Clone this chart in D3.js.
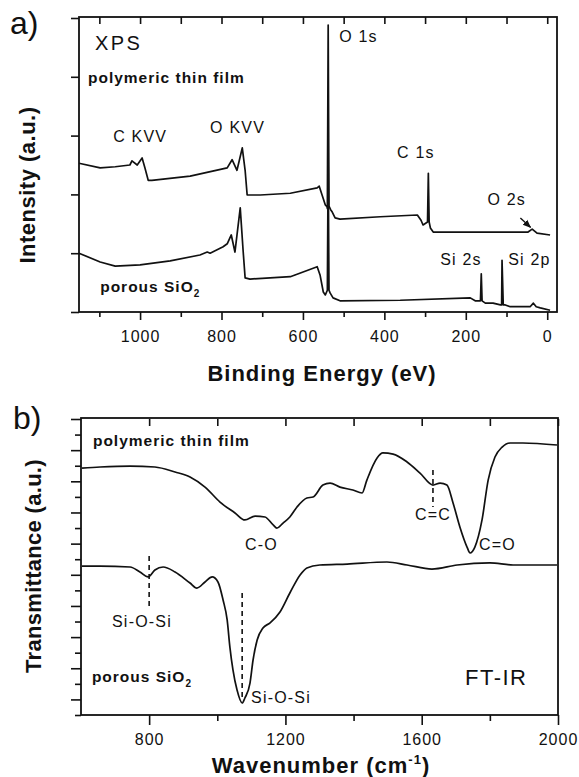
<!DOCTYPE html>
<html>
<head>
<meta charset="utf-8">
<script src="https://cdn.jsdelivr.net/npm/d3@7"></script>
<style>
body { margin: 0; background: #fff; }
text { font-family: "Liberation Sans", Arial, sans-serif; fill: #111; }
</style>
</head>
<body>
<script>
var w = 579, h = 777;

// a) XPS survey: [binding energy (eV), intensity (a.u.)]
var xpsFilm = [[1150,2.53],[1098,2.45],[1061,2.47],[1025,2.50],[1020,2.57],[1007,2.50],[995,2.62],[988,2.45],[980,2.24],[971,2.24],[877,2.31],[786,2.45],[774,2.59],[762,2.41],[749,2.79],[742,2.41],[737,1.99],[705,1.99],[631,2.02],[565,2.11],[560,2.14],[553,1.99],[545,1.82],[541,1.79],[540,1.76],[538,4.88],[536,1.80],[532,1.74],[528,1.70],[521,1.60],[509,1.58],[410,1.62],[319,1.65],[310,1.56],[305,1.48],[294,1.53],[292,2.36],[290,1.53],[287,1.43],[280,1.36],[165,1.36],[47,1.36],[37,1.41],[25,1.34],[-7,1.31]];
var xpsSilica = [[1150,1.00],[1098,0.85],[1061,0.78],[1000,0.80],[926,0.87],[853,0.97],[835,1.02],[828,1.00],[796,1.11],[786,1.16],[776,1.31],[767,1.02],[754,1.77],[747,1.05],[742,0.58],[730,0.56],[631,0.60],[565,0.77],[558,0.63],[550,0.34],[545,0.29],[540,0.37],[538,2.60],[536,0.37],[533,0.32],[526,0.24],[509,0.19],[361,0.20],[189,0.24],[177,0.19],[164,0.19],[162,0.65],[160,0.19],[152,0.15],[133,0.15],[115,0.12],[112,0.12],[111,0.88],[108,0.12],[103,0.12],[91,0.09],[42,0.09],[34,0.15],[27,0.09],[17,0.07],[-7,0.03]];
var xpsTicks = [1000, 800, 600, 400, 200, 0];
var xpsMinor = [1100, 900, 700, 500, 300, 100];
var xpsLabels = [
  {t: 'C KVV', x: 1066, y: 2.89},
  {t: 'O KVV', x: 828, y: 3.04},
  {t: 'O 1s', x: 511, y: 4.59},
  {t: 'C 1s', x: 369, y: 2.62},
  {t: 'O 2s', x: 147, y: 1.82},
  {t: 'Si 2s', x: 263, y: 0.80},
  {t: 'Si 2p', x: 96, y: 0.80}
];
var o2sArrow = [[66, 1.60], [41, 1.44]];

// b) FT-IR: [wavenumber (cm-1), transmittance (a.u.)]
var irFilm = [[603,15.85],[656,15.92],[744,15.98],[817,15.92],[876,15.60],[920,15.28],[964,14.63],[1008,13.67],[1052,12.97],[1081,12.52],[1111,12.77],[1140,12.71],[1164,12.20],[1175,12.00],[1193,12.32],[1213,12.71],[1234,13.35],[1263,13.93],[1281,13.99],[1310,14.76],[1331,14.89],[1360,14.63],[1398,14.44],[1425,14.25],[1439,15.08],[1469,16.50],[1486,16.82],[1516,16.75],[1557,16.24],[1595,15.53],[1633,14.76],[1654,14.89],[1674,14.76],[1692,13.61],[1712,12.07],[1733,10.78],[1742,10.40],[1756,10.78],[1777,12.52],[1795,15.08],[1815,16.56],[1836,17.20],[1859,17.46],[1897,17.46],[1997,17.33]];
var irSilica = [[603,9.56],[656,9.56],[744,9.50],[773,9.18],[797,8.86],[817,9.31],[841,9.50],[876,9.18],[920,8.47],[940,8.15],[964,8.54],[985,8.86],[1002,8.54],[1017,7.38],[1029,6.10],[1037,4.36],[1046,2.89],[1058,1.60],[1073,0.77],[1081,1.09],[1096,2.05],[1105,3.53],[1117,4.81],[1134,5.58],[1155,5.91],[1184,6.61],[1213,7.83],[1243,8.99],[1263,9.44],[1301,9.63],[1381,9.69],[1498,9.82],[1557,9.63],[1630,9.37],[1704,9.63],[1800,9.76],[1868,9.63],[1997,9.63]];
var irTicks = [800, 1200, 1600, 2000];
var irMinor = [1000, 1400, 1800];
var irBands = [
  {t: 'Si-O-Si', x: 691, y: 5.65, x0: 800, y0: 10.2, y1: 6.74},
  {t: 'Si-O-Si', x: 1099, y: 0.77, x0: 1073, y0: 7.83, y1: 0.96},
  {t: 'C-O', x: 1081, y: 10.59},
  {t: 'C=C', x: 1580, y: 12.52, x0: 1633, y0: 15.73, y1: 13.35},
  {t: 'C=O', x: 1768, y: 10.59}
];

var svg = d3.select('body').append('svg')
    .attr('width', w)
    .attr('height', h);

svg.append('defs').append('marker')
    .attr('id', 'head')
    .attr('viewBox', '0 0 10 10')
    .attr('refX', 9).attr('refY', 5)
    .attr('markerWidth', 6).attr('markerHeight', 6)
    .attr('orient', 'auto')
    .append('path')
    .attr('d', 'M0,1L10,5L0,9Z')
    .attr('fill', '#111');

function clean(g) {
    g.select('.domain').remove();
    g.selectAll('line').attr('stroke', '#111').attr('stroke-width', 1.6);
    g.attr('font-family', null).attr('font-size', 16).style('letter-spacing', '1px');
}

function frame(x, y) {
    var x0 = x.range()[0], x1 = x.range()[1];
    var y0 = y.range()[0], y1 = y.range()[1] - 1;
    svg.append('rect')
        .attr('x', x0).attr('y', y1)
        .attr('width', x1 - x0).attr('height', y0 - y1)
        .attr('fill', 'none')
        .attr('stroke', '#111')
        .attr('stroke-width', 1.8);
}

function curve(x, y, data, smooth) {
    var line = d3.line()
        .x(d => x(d[0]))
        .y(d => y(d[1]))
        .curve(smooth ? d3.curveMonotoneX : d3.curveLinear);
    svg.append('path')
        .datum(data)
        .attr('d', line)
        .attr('fill', 'none')
        .attr('stroke', '#111')
        .attr('stroke-width', 1.7)
        .attr('stroke-linejoin', 'round');
}

function label(x, y, str, size, bold, spacing) {
    return svg.append('text')
        .attr('x', x).attr('y', y)
        .attr('font-size', size)
        .attr('font-weight', bold ? 'bold' : null)
        .style('letter-spacing', (spacing || 0) + 'px')
        .text(str);
}

// ---------- a) XPS ----------
var xA = d3.scaleLinear().domain([1150, -24]).range([79, 557]);
var yA = d3.scaleLinear().domain([0, 5]).range([312, 18]);

svg.append('g').attr('transform', 'translate(0,312)')
    .call(d3.axisBottom(xA).tickValues(xpsTicks).tickSize(8).tickPadding(11).tickFormat(d3.format('d')))
    .call(clean);
svg.append('g').attr('transform', 'translate(0,312)')
    .call(d3.axisBottom(xA).tickValues(xpsMinor).tickSize(5).tickFormat(''))
    .call(clean);
svg.append('g').attr('transform', 'translate(0,17)')
    .call(d3.axisTop(xA).tickValues(xpsTicks.concat(xpsMinor)).tickSize(-7).tickFormat(''))
    .call(clean);
svg.append('g').attr('transform', 'translate(79,0)')
    .call(d3.axisLeft(yA).tickValues([0, 1, 2, 3, 4, 5]).tickSize(8).tickFormat(''))
    .call(clean);
frame(xA, yA);

curve(xA, yA, xpsFilm, false);
curve(xA, yA, xpsSilica, false);

xpsLabels.forEach(d => label(xA(d.x), yA(d.y), d.t, 16, false, 1.2));

svg.append('line')
    .attr('x1', xA(o2sArrow[0][0])).attr('y1', yA(o2sArrow[0][1]))
    .attr('x2', xA(o2sArrow[1][0])).attr('y2', yA(o2sArrow[1][1]))
    .attr('stroke', '#111').attr('stroke-width', 1.4)
    .attr('marker-end', 'url(#head)');

label(xA(1111), yA(4.46), 'XPS', 20, false, 2.5);
label(xA(1128), yA(3.89), 'polymeric thin film', 15.5, true, 1);
var pA = label(xA(1098), yA(0.34), 'porous SiO', 15.5, true, 1);
pA.append('tspan').attr('dy', 5).attr('font-size', 10).text('2');

label(10, 34, 'a)', 32, false, 0);

svg.append('text')
    .attr('transform', 'translate(35,185) rotate(-90)')
    .attr('text-anchor', 'middle')
    .attr('font-size', 22).attr('font-weight', 'bold')
    .style('letter-spacing', '0.5px')
    .text('Intensity (a.u.)');

svg.append('text')
    .attr('x', 322).attr('y', 381)
    .attr('text-anchor', 'middle')
    .attr('font-size', 22).attr('font-weight', 'bold')
    .style('letter-spacing', '1px')
    .text('Binding Energy (eV)');

// ---------- b) FT-IR ----------
var xB = d3.scaleLinear().domain([600, 2000]).range([81, 558]);
var yB = d3.scaleLinear().domain([0, 19]).range([715, 419]);

svg.append('g').attr('transform', 'translate(0,715)')
    .call(d3.axisBottom(xB).tickValues(irTicks).tickSize(10).tickPadding(9).tickFormat(d3.format('d')))
    .call(clean);
svg.append('g').attr('transform', 'translate(0,715)')
    .call(d3.axisBottom(xB).tickValues(irMinor).tickSize(6).tickFormat(''))
    .call(clean);
svg.append('g').attr('transform', 'translate(0,419)')
    .call(d3.axisTop(xB).tickValues(irTicks.concat(irMinor)).tickSize(-7).tickFormat(''))
    .call(clean);
svg.append('g').attr('transform', 'translate(81,0)')
    .call(d3.axisLeft(yB).tickValues(d3.range(1, 20, 2)).tickSize(10).tickFormat(''))
    .call(clean);
svg.append('g').attr('transform', 'translate(81,0)')
    .call(d3.axisLeft(yB).tickValues(d3.range(0, 19, 2)).tickSize(6).tickFormat(''))
    .call(clean);
frame(xB, yB);

curve(xB, yB, irFilm, true);
curve(xB, yB, irSilica, true);

irBands.forEach(d => {
    if (d.x0 !== undefined) {
        svg.append('line')
            .attr('x1', xB(d.x0)).attr('x2', xB(d.x0))
            .attr('y1', yB(d.y0)).attr('y2', yB(d.y1))
            .attr('stroke', '#111').attr('stroke-width', 1.6)
            .attr('stroke-dasharray', '5,4');
    }
    label(xB(d.x), yB(d.y), d.t, 16, false, 1.2);
});

label(xB(1727), yB(1.93), 'FT-IR', 22, false, 1.5);
label(xB(635), yB(17.27), 'polymeric thin film', 15.5, true, 1);
var pB = label(xB(632), yB(2.12), 'porous SiO', 15.5, true, 1);
pB.append('tspan').attr('dy', 5).attr('font-size', 10).text('2');

label(13, 429, 'b)', 32, false, 0);

svg.append('text')
    .attr('transform', 'translate(41,566) rotate(-90)')
    .attr('text-anchor', 'middle')
    .attr('font-size', 22).attr('font-weight', 'bold')
    .style('letter-spacing', '0.3px')
    .text('Transmittance (a.u.)');

var wt = svg.append('text')
    .attr('x', 321).attr('y', 773)
    .attr('text-anchor', 'middle')
    .attr('font-size', 22).attr('font-weight', 'bold')
    .style('letter-spacing', '1px')
    .text('Wavenumber (cm');
wt.append('tspan').attr('dy', -9).attr('font-size', 13).text('-1');
wt.append('tspan').attr('dy', 9).text(')');
</script>
</body>
</html>
